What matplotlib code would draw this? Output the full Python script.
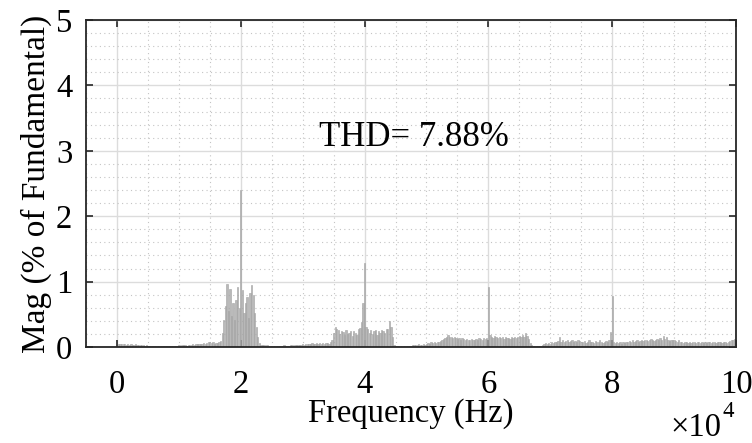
import numpy as np
import matplotlib
matplotlib.use("Agg")
import matplotlib.pyplot as plt
from matplotlib.ticker import MultipleLocator

plt.rcParams["font.family"] = ["Liberation Serif", "DejaVu Serif"]

# spectrum bins, 250 Hz apart starting at DC (one row = 5 kHz)
BIN_HZ = 250
mag_pct = [
    0.00, 0.045, 0.04, 0.05, 0.045, 0.04, 0.035, 0.045, 0.03, 0.04, 0.035, 0.03, 0.04, 0.03, 0.035, 0.03, 0.025, 0.03, 0.02, 0.025,
    0.02, 0.015, 0.02, 0.015, 0.02, 0.01, 0.015, 0.02, 0.01, 0.015, 0.01, 0.01, 0.015, 0.01, 0.01, 0.015, 0.01, 0.02, 0.015, 0.02,
    0.025, 0.02, 0.03, 0.025, 0.03, 0.02, 0.025, 0.035, 0.03, 0.04, 0.035, 0.045, 0.04, 0.05, 0.045, 0.04, 0.06, 0.05, 0.055, 0.07,
    0.075, 0.06, 0.07, 0.05, 0.065, 0.055, 0.07, 0.09, 0.21, 0.41, 0.62, 0.96, 0.55, 0.88, 0.48, 0.67, 0.42, 0.72, 0.92, 0.60,
    2.40, 0.87, 0.52, 0.67, 0.77, 0.45, 0.82, 0.95, 0.80, 0.52, 0.31, 0.16, 0.06, 0.03, 0.025, 0.03, 0.02, 0.025, 0.02, 0.02,
    0.02, 0.015, 0.02, 0.01, 0.015, 0.02, 0.015, 0.02, 0.025, 0.02, 0.015, 0.02, 0.03, 0.025, 0.02, 0.03, 0.025, 0.03, 0.035, 0.03,
    0.04, 0.035, 0.045, 0.05, 0.04, 0.05, 0.055, 0.045, 0.05, 0.06, 0.05, 0.055, 0.045, 0.06, 0.05, 0.055, 0.06, 0.05, 0.07, 0.10,
    0.22, 0.31, 0.28, 0.26, 0.20, 0.25, 0.23, 0.18, 0.26, 0.20, 0.21, 0.24, 0.17, 0.25, 0.22, 0.19, 0.27, 0.29, 0.38, 0.67,
    1.28, 0.31, 0.27, 0.22, 0.26, 0.20, 0.24, 0.26, 0.19, 0.24, 0.22, 0.26, 0.25, 0.21, 0.28, 0.27, 0.39, 0.30, 0.16, 0.03,
    0.02, 0.01, 0.01, 0.015, 0.01, 0.01, 0.015, 0.01, 0.02, 0.015, 0.02, 0.03, 0.025, 0.035, 0.03, 0.04, 0.03, 0.035, 0.04, 0.035,
    0.05, 0.06, 0.05, 0.07, 0.06, 0.07, 0.065, 0.08, 0.07, 0.09, 0.10, 0.12, 0.14, 0.16, 0.18, 0.15, 0.16, 0.13, 0.15, 0.14,
    0.12, 0.14, 0.11, 0.13, 0.12, 0.10, 0.12, 0.11, 0.10, 0.12, 0.11, 0.10, 0.12, 0.11, 0.13, 0.12, 0.11, 0.13, 0.12, 0.14,
    0.92, 0.18, 0.16, 0.14, 0.17, 0.15, 0.13, 0.16, 0.14, 0.15, 0.12, 0.15, 0.13, 0.14, 0.12, 0.15, 0.13, 0.16, 0.14, 0.15,
    0.17, 0.15, 0.18, 0.16, 0.22, 0.17, 0.12, 0.06, 0.03, 0.02, 0.02, 0.015, 0.02, 0.015, 0.02, 0.03, 0.04, 0.06, 0.05, 0.06,
    0.05, 0.07, 0.06, 0.08, 0.07, 0.09, 0.15, 0.08, 0.10, 0.08, 0.09, 0.10, 0.08, 0.09, 0.10, 0.08, 0.09, 0.08, 0.10, 0.09,
    0.08, 0.07, 0.09, 0.06, 0.08, 0.10, 0.07, 0.08, 0.06, 0.09, 0.07, 0.08, 0.10, 0.07, 0.06, 0.08, 0.09, 0.07, 0.10, 0.23,
    0.78, 0.07, 0.06, 0.08, 0.06, 0.07, 0.05, 0.07, 0.06, 0.08, 0.07, 0.09, 0.08, 0.10, 0.08, 0.09, 0.10, 0.08, 0.09, 0.10,
    0.09, 0.10, 0.11, 0.09, 0.10, 0.12, 0.10, 0.09, 0.11, 0.12, 0.10, 0.13, 0.11, 0.17, 0.12, 0.15, 0.10, 0.09, 0.11, 0.10,
    0.10, 0.09, 0.08, 0.10, 0.07, 0.08, 0.06, 0.07, 0.08, 0.06, 0.07, 0.06, 0.08, 0.07, 0.06, 0.07, 0.08, 0.06, 0.07, 0.06,
    0.07, 0.06, 0.08, 0.07, 0.06, 0.07, 0.08, 0.06, 0.07, 0.08, 0.07, 0.06, 0.08, 0.07, 0.06, 0.08, 0.09, 0.10, 0.11, 0.12,
]
thd_pct = 7.88

x_ticks = [0, 20000, 40000, 60000, 80000, 100000]
x_ticklabels = ["0", "2", "4", "6", "8", "10"]
y_ticks = [0, 1, 2, 3, 4, 5]

freq_hz = np.arange(len(mag_pct)) * BIN_HZ

fig = plt.figure(figsize=(7.52, 4.43), dpi=100)
ax = fig.add_axes([0.1144, 0.2167, 0.8643, 0.7382])

ax.bar(freq_hz, mag_pct, width=0.85 * BIN_HZ, color="#b8b8b8",
       edgecolor="#a0a0a0", linewidth=0.4, zorder=2)

ax.set_xlim(-5000, 100000)
ax.set_ylim(0, 5)
ax.set_xticks(x_ticks)
ax.set_xticklabels(x_ticklabels)
ax.set_yticks(y_ticks)
ax.xaxis.set_minor_locator(MultipleLocator(5000))
ax.yaxis.set_minor_locator(MultipleLocator(0.2))

ax.set_axisbelow(True)
ax.grid(True, which="major", color="#dcdcdc", linewidth=1.0, linestyle="-")
ax.grid(True, which="minor", color="#c4c4c4", linewidth=0.8, linestyle=(0, (1, 3)))

ax.tick_params(which="major", direction="in", length=5, width=1.2,
               top=True, right=True, labelsize=23.5, color="#262626")
ax.tick_params(axis="x", pad=16)
ax.tick_params(axis="y", pad=10)
ax.tick_params(which="minor", length=0)
for s in ax.spines.values():
    s.set_linewidth(1.3)
    s.set_color("#262626")

ax.set_xlabel("Frequency (Hz)", fontsize=23.5, labelpad=-1)
ax.set_ylabel("Mag (% of Fundamental)", fontsize=24, labelpad=3)

# x-axis multiplier, drawn as base plus raised exponent
fig.text(0.9588, 0.0158, "\u00d710", ha="right", va="baseline", fontsize=23.5)
fig.text(0.9614, 0.058, "4", ha="left", va="baseline", fontsize=16.5)

ax.text(48000, 3.2, f"THD= {thd_pct:.2f}%", ha="center", va="center", fontsize=25)

fig.savefig("out.png", dpi=100)
